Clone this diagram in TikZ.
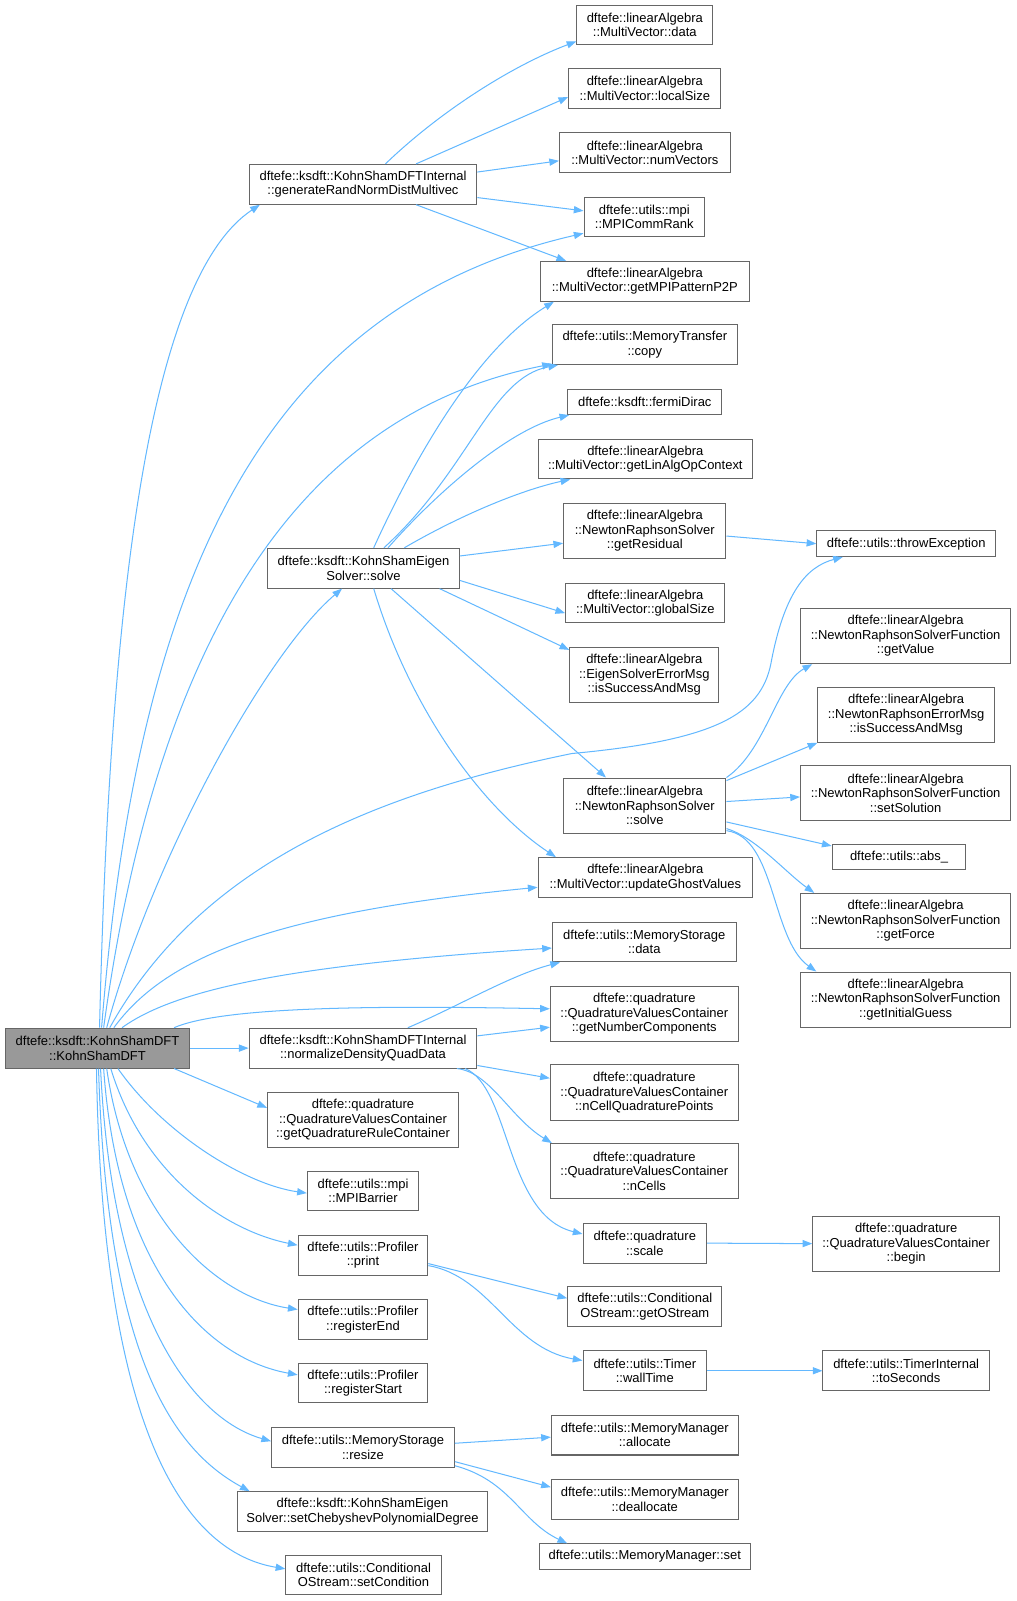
\documentclass[tikz,border=0pt]{standalone}
\usepackage{fontspec}
\setmainfont{Liberation Sans}
\usetikzlibrary{arrows.meta}
\definecolor{edgec}{HTML}{63B8FF}
\definecolor{bordc}{HTML}{666666}
\definecolor{rootc}{HTML}{999999}
\tikzset{
 box/.style={draw=bordc, line width=1pt, fill=white, align=center, inner sep=0pt, font=\fontsize{12.7}{14.2}\selectfont},
 bx/.style 2 args={box, minimum width=#1pt, minimum height=#2pt},
 edge/.style={draw=edgec, line width=1pt, -{Triangle[length=9.5pt,width=7pt]}},
}
\begin{document}
\begin{tikzpicture}[x=1pt,y=-1pt]
\useasboundingbox (0,0) rectangle (996,1568);
% root
\node[bx={181}{39}, fill=rootc] (root) at (95.5,1026.5) {dftefe::ksdft::KohnShamDFT\\::KohnShamDFT};
% right column
\node[bx={223}{39}] (gen) at (355.5,180.5) {dftefe::ksdft::KohnShamDFTInternal\\::generateRandNormDistMultivec};
\node[bx={133}{39}] (mvdata) at (631.5,24.5) {dftefe::linearAlgebra\\::MultiVector::data};
\node[bx={149}{39}] (localsize) at (631.5,86.5) {dftefe::linearAlgebra\\::MultiVector::localSize};
\node[bx={167}{39}] (numvec) at (631.5,149.5) {dftefe::linearAlgebra\\::MultiVector::numVectors};
\node[bx={118}{39}] (commrank) at (631,212.5) {dftefe::utils::mpi\\::MPICommRank};
\node[bx={205}{39}] (p2p) at (631.5,275.5) {dftefe::linearAlgebra\\::MultiVector::getMPIPatternP2P};
\node[bx={181}{39}] (copy) at (631.5,337.5) {dftefe::utils::MemoryTransfer\\::copy};
\node[bx={151}{25}] (fermi) at (631.5,393.5) {dftefe::ksdft::fermiDirac};
\node[bx={210}{39}] (linalg) at (632,449.5) {dftefe::linearAlgebra\\::MultiVector::getLinAlgOpContext};
\node[bx={159}{54}] (resid) at (631.5,520) {dftefe::linearAlgebra\\::NewtonRaphsonSolver\\::getResidual};
\node[bx={156}{39}] (gsize) at (632,590.5) {dftefe::linearAlgebra\\::MultiVector::globalSize};
\node[bx={146}{54}] (eigmsg) at (631,661) {dftefe::linearAlgebra\\::EigenSolverErrorMsg\\::isSuccessAndMsg};
\node[bx={159}{54}] (nrsolve) at (631.5,789) {dftefe::linearAlgebra\\::NewtonRaphsonSolver\\::solve};
\node[bx={210}{39}] (ghost) at (632,859.5) {dftefe::linearAlgebra\\::MultiVector::updateGhostValues};
\node[bx={180}{39}] (msdata) at (631,922.5) {dftefe::utils::MemoryStorage\\::data};
\node[bx={184}{54}] (ncomp) at (631,993) {dftefe::quadrature\\::QuadratureValuesContainer\\::getNumberComponents};
\node[bx={184}{54}] (ncqp) at (631,1070) {dftefe::quadrature\\::QuadratureValuesContainer\\::nCellQuadraturePoints};
\node[bx={184}{54}] (ncells) at (631,1147) {dftefe::quadrature\\::QuadratureValuesContainer\\::nCells};
\node[bx={121}{39}] (scale) at (631.5,1217.5) {dftefe::quadrature\\::scale};
\node[bx={151}{39}] (ostream) at (631.5,1279.5) {dftefe::utils::Conditional\\OStream::getOStream};
\node[bx={121}{39}] (wall) at (631.5,1342.5) {dftefe::utils::Timer\\::wallTime};
\node[bx={183}{39}] (alloc) at (631.5,1405.5) {dftefe::utils::MemoryManager\\::allocate};
\node[bx={183}{39}] (dealloc) at (631.5,1468.5) {dftefe::utils::MemoryManager\\::deallocate};
\node[bx={207}{25}] (mmset) at (631.5,1524.5) {dftefe::utils::MemoryManager::set};
% middle column
\node[bx={188}{39}] (ks) at (356,556.5) {dftefe::ksdft::KohnShamEigen\\Solver::solve};
\node[bx={223}{39}] (norm) at (355.5,1026.5) {dftefe::ksdft::KohnShamDFTInternal\\::normalizeDensityQuadData};
\node[bx={187}{54}] (qrc) at (355.5,1097) {dftefe::quadrature\\::QuadratureValuesContainer\\::getQuadratureRuleContainer};
\node[bx={109}{39}] (barrier) at (355.5,1166.5) {dftefe::utils::mpi\\::MPIBarrier};
\node[bx={127}{39}] (print) at (355.5,1229.5) {dftefe::utils::Profiler\\::print};
\node[bx={127}{39}] (regend) at (355.5,1292.5) {dftefe::utils::Profiler\\::registerEnd};
\node[bx={127}{39}] (regstart) at (355.5,1354.5) {dftefe::utils::Profiler\\::registerStart};
\node[bx={179}{39}] (resize) at (355.5,1417.5) {dftefe::utils::MemoryStorage\\::resize};
\node[bx={244}{39}] (cheb) at (355,1480.5) {dftefe::ksdft::KohnShamEigen\\Solver::setChebyshevPolynomialDegree};
\node[bx={152}{39}] (cond) at (356,1542.5) {dftefe::utils::Conditional\\OStream::setCondition};
% far right column
\node[bx={175}{25}] (throwexc) at (887.5,532.5) {dftefe::utils::throwException};
\node[bx={206}{54}] (getval) at (887,623) {dftefe::linearAlgebra\\::NewtonRaphsonSolverFunction\\::getValue};
\node[bx={173}{54}] (nrmsg) at (887.5,700) {dftefe::linearAlgebra\\::NewtonRaphsonErrorMsg\\::isSuccessAndMsg};
\node[bx={206}{54}] (setsol) at (887,777) {dftefe::linearAlgebra\\::NewtonRaphsonSolverFunction\\::setSolution};
\node[bx={131}{25}] (abs) at (880.5,839.5) {dftefe::utils::abs\_};
\node[bx={206}{54}] (getforce) at (887,902) {dftefe::linearAlgebra\\::NewtonRaphsonSolverFunction\\::getForce};
\node[bx={206}{54}] (initguess) at (887,979) {dftefe::linearAlgebra\\::NewtonRaphsonSolverFunction\\::getInitialGuess};
\node[bx={183}{54}] (begin) at (887.5,1218) {dftefe::quadrature\\::QuadratureValuesContainer\\::begin};
\node[bx={163}{39}] (tosec) at (887.5,1342.5) {dftefe::utils::TimerInternal\\::toSeconds};

% root edges
\draw[edge] ([xshift=2pt]root.north) .. controls (108,560) and (150,270) .. ([xshift=11pt]gen.south west);
\draw[edge] ([xshift=4pt]root.north) .. controls (135,560) and (260,300) .. ([yshift=4pt]commrank.south west);
\draw[edge] ([xshift=6pt]root.north) .. controls (160,580) and (320,400) .. ([yshift=1pt]copy.south west);
\draw[edge] ([xshift=9pt]root.north) .. controls (150,840) and (260,640) .. ([xshift=-21pt]ks.south);
\draw[edge] ([xshift=12pt]root.north) .. controls (200,840) and (380,775) .. (560,738) .. controls (700,725) and (745,700) .. (755,650) .. controls (768,580) and (790,555) .. ([xshift=26pt]throwexc.south west);
\draw[edge] ([xshift=16pt]root.north) .. controls (160,940) and (260,895) .. ([yshift=-9.5pt]ghost.west);
\draw[edge] ([xshift=24pt]root.north) .. controls (170,970) and (280,945) .. ([yshift=-6pt]msdata.west);
\draw[edge] ([xshift=-16pt]root.north east) .. controls (220,985) and (380,985) .. ([yshift=5pt]ncomp.west);
\draw[edge] (root.east) -- (norm.west);
\draw[edge] ([xshift=-16pt]root.south east) -- ([yshift=12pt]qrc.west);
\draw[edge] ([xshift=20pt]root.south) .. controls (160,1110) and (240,1160) .. ([yshift=-2pt]barrier.west);
\draw[edge] ([xshift=13pt]root.south) .. controls (140,1150) and (220,1205) .. ([yshift=10pt]print.west);
\draw[edge] ([xshift=9pt]root.south) .. controls (125,1190) and (210,1270) .. ([yshift=10pt]regend.west);
\draw[edge] ([xshift=6pt]root.south) .. controls (115,1240) and (200,1330) .. ([yshift=8pt]regstart.west);
\draw[edge] ([xshift=3pt]root.south) .. controls (110,1290) and (190,1390) .. ([yshift=6pt]resize.west);
\draw[edge] ([xshift=1pt]root.south) .. controls (105,1330) and (170,1420) .. ([xshift=12pt]cheb.north west);
\draw[edge] ([xshift=-1pt]root.south) .. controls (100,1400) and (180,1520) .. ([yshift=6pt]cond.west);
% gen edges
\draw[edge] ([xshift=22pt]gen.north) .. controls (430,110) and (500,65) .. ([yshift=4pt]mvdata.south west);
\draw[edge] ([xshift=52pt]gen.north) -- ([yshift=-8.5pt]localsize.west);
\draw[edge] ([yshift=12pt]gen.east) -- ([yshift=-8pt]numvec.west);
\draw[edge] ([yshift=-13pt]gen.east) -- ([yshift=6pt]commrank.west);
\draw[edge] ([xshift=52pt]gen.south) -- ([xshift=26pt]p2p.north west);
% ks edges
\draw[edge] ([xshift=10pt]ks.north) .. controls (410,440) and (470,340) .. ([xshift=14pt]p2p.south west);
\draw[edge] ([xshift=20pt]ks.north) .. controls (460,460) and (480,370) .. ([xshift=6pt]copy.south west);
\draw[edge] ([xshift=24pt]ks.north) .. controls (430,480) and (500,420) .. ([xshift=2pt]fermi.south west);
\draw[edge] ([xshift=40pt]ks.north) .. controls (450,505) and (510,480) .. ([xshift=32pt]linalg.south west);
\draw[edge] ([yshift=12pt]ks.east) -- ([yshift=-12pt]resid.west);
\draw[edge] ([yshift=-12pt]ks.east) -- ([yshift=-10pt]gsize.west);
\draw[edge] ([xshift=-20pt]ks.south east) -- ([yshift=-3pt]eigmsg.north west);
\draw[edge] ([xshift=27pt]ks.south) -- ([xshift=42pt]nrsolve.north west);
\draw[edge] ([xshift=10pt]ks.south) .. controls (400,690) and (470,790) .. ([xshift=18pt]ghost.north west);
\draw[edge] ([yshift=-5pt]resid.east) -- (throwexc.west);
% nrsolve edges
\draw[edge] (nrsolve.north east) .. controls (750,735) and (760,670) .. ([xshift=12pt]getval.south west);
\draw[edge] ([yshift=-3pt]nrsolve.north east) -- (nrmsg.south west);
\draw[edge] ([yshift=4pt]nrsolve.east) -- ([yshift=-3.5pt]setsol.west);
\draw[edge] ([yshift=-16pt]nrsolve.east) -- ([yshift=-2pt]abs.north west);
\draw[edge] ([yshift=5pt]nrsolve.south east) .. controls (740,820) and (770,855) .. ([xshift=14pt]getforce.north west);
\draw[edge] ([yshift=3pt]nrsolve.south east) .. controls (760,820) and (755,920) .. ([xshift=16pt]initguess.north west);
% norm edges
\draw[edge] ([xshift=44pt]norm.north) .. controls (450,985) and (500,955) .. ([xshift=8pt]msdata.south west);
\draw[edge] ([yshift=12pt]norm.east) -- ([yshift=-13pt]ncomp.west);
\draw[edge] ([yshift=-17pt]norm.east) -- ([yshift=14pt]ncqp.west);
\draw[edge] ([xshift=-20pt]norm.south east) .. controls (480,1050) and (500,1095) .. ([xshift=2pt]ncells.north west);
\draw[edge] ([xshift=-12pt]norm.south east) .. controls (500,1065) and (495,1190) .. ([yshift=9pt]scale.west);
\draw[edge] (scale.east) -- (begin.west);
% print edges
\draw[edge] ([yshift=-8pt]print.east) -- ([yshift=8pt]ostream.west);
\draw[edge] ([yshift=-10pt]print.east) .. controls (480,1250) and (500,1320) .. ([yshift=10pt]wall.west);
\draw[edge] (wall.east) -- (tosec.west);
% resize edges
\draw[edge] ([yshift=4pt]resize.east) -- ([yshift=-2pt]alloc.west);
\draw[edge] ([yshift=-14pt]resize.east) -- ([yshift=12pt]dealloc.west);
\draw[edge] ([yshift=-18pt]resize.east) .. controls (500,1450) and (510,1490) .. ([xshift=28pt]mmset.north west);
\end{tikzpicture}
\end{document}
